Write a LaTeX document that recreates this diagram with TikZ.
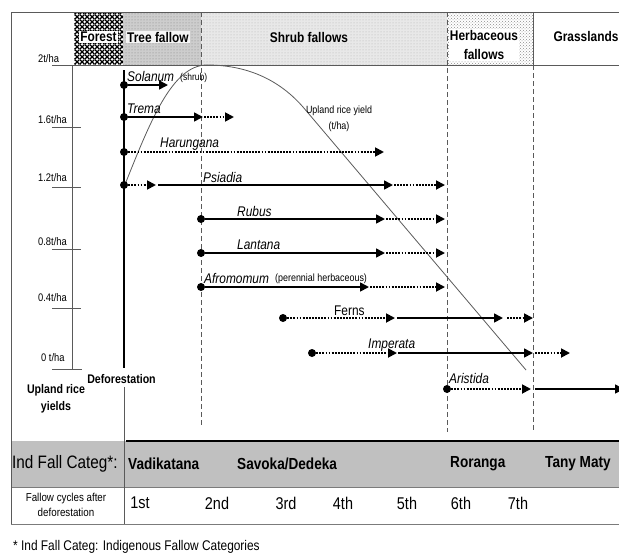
\documentclass[tikz,border=0pt]{standalone}
\usepackage{fontspec}
\setmainfont{Liberation Sans}[FakeStretch=0.85]
\usetikzlibrary{arrows.meta,patterns}

\definecolor{bandgray}{RGB}{192,192,192}
\definecolor{rulegray}{RGB}{90,90,90}
\definecolor{treefill}{RGB}{205,205,205}
\definecolor{shrubfill}{RGB}{232,232,232}

% dense woven hatch for the forest column
\pgfdeclarepatternformonly{forestweave}{\pgfpointorigin}{\pgfpoint{5pt}{5pt}}{\pgfpoint{5pt}{5pt}}{%
  \pgfsetlinewidth{1.5pt}%
  \pgfpathmoveto{\pgfpoint{-0.2pt}{-0.2pt}}\pgfpathlineto{\pgfpoint{5.2pt}{5.2pt}}%
  \pgfpathmoveto{\pgfpoint{-0.2pt}{5.2pt}}\pgfpathlineto{\pgfpoint{5.2pt}{-0.2pt}}%
  \pgfusepath{stroke}}

\tikzset{
  solidarr/.style={line width=1.7pt, -{Triangle[length=9pt,width=9pt]}},
  dotarr/.style={line width=1.8pt, dash pattern=on 1.8pt off 1.3pt, -{Triangle[length=9pt,width=9pt]}},
  startdot/.style={circle, fill=black, inner sep=0pt, minimum size=8pt},
  species/.style={font=\fontsize{14}{16}\selectfont\itshape, anchor=west, inner sep=0pt},
  plainlabel/.style={font=\fontsize{14}{16}\selectfont, anchor=west, inner sep=0pt},
  smallnote/.style={font=\fontsize{10.5}{12}\selectfont, anchor=west, inner sep=0pt},
  ylabel/.style={font=\fontsize{11}{12}\selectfont, anchor=west, inner sep=0pt},
  headlabel/.style={font=\fontsize{14}{19}\selectfont\bfseries, inner sep=1pt, align=center},
  sepline/.style={rulegray, dash pattern=on 5pt off 3pt, line width=0.8pt},
  frameline/.style={rulegray, line width=0.9pt},
  categ/.style={font=\fontsize{16}{18}\selectfont\bfseries, anchor=west, inner sep=0pt},
  ordinal/.style={font=\fontsize{17}{19}\selectfont, inner sep=0pt},
}

\begin{document}
\begin{tikzpicture}[x=1pt,y=-1pt]
\useasboundingbox (0,0) rectangle (619,554);

% ---- header band with vegetation stages ----
\path[pattern=forestweave, pattern color=black] (74,12) rectangle (123,65);
\path[fill=treefill, postaction={pattern=dots, pattern color=black!50}] (123,12) rectangle (201,65);
\path[fill=shrubfill, postaction={pattern=dots, pattern color=black!30}] (201,12) rectangle (447,65);
\path[pattern=crosshatch dots, pattern color=black!45] (447,12) rectangle (533,65);

\node[headlabel, fill=white] (hforest) at (98.5,37) {Forest};
\node[headlabel, fill=white!80!treefill] (htree) at (158,37) {Tree fallow};
\node[headlabel, fill=shrubfill] (hshrub) at (309,37) {Shrub fallows};
\node[headlabel, fill=white] (hherb) at (484,45) {Herbaceous\\fallows};
\node[headlabel] (hgrass) at (586,36) {Grasslands};

% ---- frame ----
\draw[frameline] (11,524) -- (11,12) -- (619,12);
\draw[frameline] (52,65) -- (619,65);
\draw[frameline] (533,12) -- (533,65);

% ---- stage separators ----
\draw[sepline] (201,12) -- (201,425);
\draw[sepline] (447,12) -- (447,432);
\draw[sepline] (533,65) -- (533,430);

% ---- yield axis ----
\draw[rulegray, line width=0.8pt] (72,65) -- (72,369);
\foreach \yy in {127,187,249,308}
  \draw[rulegray, line width=0.8pt] (52,\yy) -- (81,\yy);
\draw[rulegray, line width=0.8pt] (52,369) -- (82,369);

\node[ylabel] (y20) at (38,59) {2t/ha};
\node[ylabel] (y16) at (38,120) {1.6t/ha};
\node[ylabel] (y12) at (38,178) {1.2t/ha};
\node[ylabel] (y08) at (38,242) {0.8t/ha};
\node[ylabel] (y04) at (38,298) {0.4t/ha};
\node[ylabel] (y00) at (41,358) {0 t/ha};

\node[font=\fontsize{12.5}{16.5}\selectfont\bfseries, align=center, inner sep=0pt] (yieldtitle) at (56,399) {Upland rice\\yields};

% ---- deforestation line ----
\draw[line width=1.7pt] (124,70) -- (124,368);
\node[font=\fontsize{12.5}{14}\selectfont\bfseries, inner sep=0pt] (defor) at (121.5,379) {Deforestation};
\draw[rulegray, line width=0.8pt] (124,387) -- (124,524);

% ---- upland rice yield curve ----
\draw[rulegray, line width=0.8pt] (124,187) .. controls (150,122) and (172,65) .. (207,65)
  .. controls (240,65) and (275,75) .. (303,107) -- (526,370);
\node[font=\fontsize{10.5}{16}\selectfont, align=center, inner sep=0pt] (curvelabel) at (339,119) {Upland rice yield\\(t/ha)};

% ---- species succession ----
% Solanum
\node[startdot] (sol0) at (124,85) {};
\coordinate (sol1) at (168,85);
\draw[solidarr] (sol0) -- (sol1);
\node[species] (solname) at (127,76) {Solanum};
\node[smallnote, font=\fontsize{10}{12}\selectfont] (solnote) at (180,78) {(shrub)};

% Trema
\node[startdot] (tre0) at (124,117) {};
\coordinate (tre1) at (203,117);
\coordinate (tre2) at (204,117);
\coordinate (tre3) at (234,117);
\draw[solidarr] (tre0) -- (tre1);
\draw[dotarr] (tre2) -- (tre3);
\node[species] (trename) at (127,109) {Trema};

% Harungana
\node[startdot] (har0) at (124,152) {};
\coordinate (har1) at (384,152);
\draw[dotarr] (har0) -- (har1);
\node[species] (harname) at (160,144) {Harungana};

% Psiadia
\node[startdot] (psi0) at (124,185) {};
\coordinate (psi1) at (156,185);
\coordinate (psi2) at (158,185);
\coordinate (psi3) at (393,185);
\coordinate (psi4) at (394,185);
\coordinate (psi5) at (445,185);
\draw[dotarr] (psi0) -- (psi1);
\draw[solidarr] (psi2) -- (psi3);
\draw[dotarr] (psi4) -- (psi5);
\node[species] (psiname) at (203,177) {Psiadia};

% Rubus
\node[startdot] (rub0) at (201,219) {};
\coordinate (rub1) at (385,219);
\coordinate (rub2) at (386,219);
\coordinate (rub3) at (445,219);
\draw[solidarr] (rub0) -- (rub1);
\draw[dotarr] (rub2) -- (rub3);
\node[species] (rubname) at (237,211) {Rubus};

% Lantana
\node[startdot] (lan0) at (201,253) {};
\coordinate (lan1) at (385,253);
\coordinate (lan2) at (386,253);
\coordinate (lan3) at (445,253);
\draw[solidarr] (lan0) -- (lan1);
\draw[dotarr] (lan2) -- (lan3);
\node[species] (lanname) at (237,245) {Lantana};

% Afromomum
\node[startdot] (afr0) at (201,287) {};
\coordinate (afr1) at (369,287);
\coordinate (afr2) at (370,287);
\coordinate (afr3) at (445,287);
\draw[solidarr] (afr0) -- (afr1);
\draw[dotarr] (afr2) -- (afr3);
\node[species] (afrname) at (204,278) {Afromomum};
\node[smallnote] (afrnote) at (275,279) {(perennial herbaceous)};

% Ferns
\node[startdot] (fer0) at (283,318) {};
\coordinate (fer1) at (395,318);
\coordinate (fer2) at (397,318);
\coordinate (fer3) at (503,318);
\coordinate (fer4) at (507,318);
\coordinate (fer5) at (533,318);
\draw[dotarr] (fer0) -- (fer1);
\draw[solidarr] (fer2) -- (fer3);
\draw[dotarr] (fer4) -- (fer5);
\node[plainlabel] (fername) at (334,311) {Ferns};

% Imperata
\node[startdot] (imp0) at (312,353) {};
\coordinate (imp1) at (397,353);
\coordinate (imp2) at (398,353);
\coordinate (imp3) at (533,353);
\coordinate (imp4) at (535,353);
\coordinate (imp5) at (570,353);
\draw[dotarr] (imp0) -- (imp1);
\draw[solidarr] (imp2) -- (imp3);
\draw[dotarr] (imp4) -- (imp5);
\node[species] (impname) at (368,345) {Imperata};

% Aristida
\node[startdot] (ari0) at (447,389) {};
\coordinate (ari1) at (531,389);
\coordinate (ari2) at (535,389);
\coordinate (ari3) at (624,389);
\draw[dotarr] (ari0) -- (ari1);
\draw[solidarr] (ari2) -- (ari3);
\node[species] (ariname) at (449,378) {Aristida};

% ---- indigenous categories table ----
\fill[bandgray] (11,441) rectangle (619,487);
\draw[line width=1.5pt] (126,441) -- (619,441);
\draw[rulegray!80, line width=0.8pt] (11,487) -- (619,487);
\draw[rulegray!80, line width=0.9pt] (11,524) -- (619,524);
\draw[rulegray, line width=0.8pt] (124,441) -- (124,524);
\draw[frameline] (11,441) -- (11,524);

\node[font=\fontsize{18}{20}\selectfont, anchor=west, inner sep=0pt] (catlabel) at (12,464) {Ind Fall Categ*:};
\node[categ] (cvad) at (128,464) {Vadikatana};
\node[categ] (csav) at (237,464) {Savoka/Dedeka};
\node[categ] (cror) at (450,464) {Roranga};
\node[categ] (ctan) at (545,464) {Tany Maty};

\node[font=\fontsize{11.5}{14.5}\selectfont, align=center, inner sep=0pt] (cyclabel) at (66,505) {Fallow cycles after\\deforestation};
\node[ordinal] (c1) at (140,503) {1st};
\node[ordinal] (c2) at (217,503) {2nd};
\node[ordinal] (c3) at (286,503) {3rd};
\node[ordinal] (c4) at (343,503) {4th};
\node[ordinal] (c5) at (407,503) {5th};
\node[ordinal] (c6) at (461,503) {6th};
\node[ordinal] (c7) at (518,503) {7th};

\node[font=\fontsize{14}{16}\selectfont, anchor=west, inner sep=0pt] (footnote) at (13,547) {* Ind Fall Categ: Indigenous Fallow Categories};
\end{tikzpicture}
\end{document}
